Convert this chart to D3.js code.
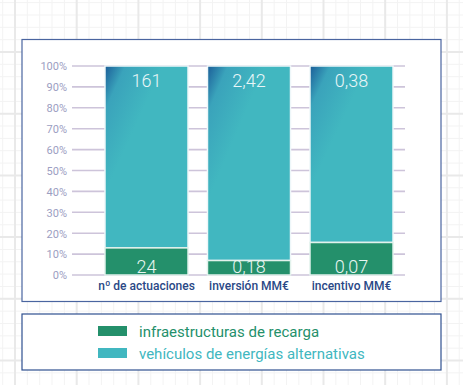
<!DOCTYPE html>
<html>
<head>
<meta charset="utf-8">
<script src="https://cdn.jsdelivr.net/npm/d3@7"></script>
<style>
  html, body { margin: 0; padding: 0; background: #fff; }
  svg { display: block; }
</style>
</head>
<body>
<script>
// --- Daten ---
const categories = ["nº de actuaciones", "inversión MM€", "incentivo MM€"];
const infraLabels = ["24", "0,18", "0,07"];
const vehLabels = ["161", "2,42", "0,38"];
const infraValues = [24, 0.18, 0.07];
const vehValues = [161, 2.42, 0.38];
const seriesNames = ["infraestructuras de recarga", "vehículos de energías alternativas"];
const tickValues = [0, 0.1, 0.2, 0.3, 0.4, 0.5, 0.6, 0.7, 0.8, 0.9, 1];

const W = 463, H = 385;
const green = "#24906b", teal = "#41b7c0";
const font = "Roboto, 'Liberation Sans', sans-serif";

const svg = d3.select("body").append("svg").attr("width", W).attr("height", H);

// --- Hintergrund: Karopapier ---
const bg = svg.append("g");
const major = 61.7, minor = major / 5;
d3.range(15 - major * 2, W, minor).forEach((x) => {
  if (x < 0) return;
  bg.append("line").attr("x1", x).attr("x2", x).attr("y1", 0).attr("y2", H)
    .attr("stroke", "#f3f3f3").attr("stroke-width", 1);
});
d3.range(52 - major, H, minor).forEach((y) => {
  if (y < 0) return;
  bg.append("line").attr("y1", y).attr("y2", y).attr("x1", 0).attr("x2", W)
    .attr("stroke", "#f3f3f3").attr("stroke-width", 1);
});
d3.range(15, W, major).forEach((x) => {
  bg.append("line").attr("x1", x).attr("x2", x).attr("y1", 0).attr("y2", H)
    .attr("stroke", "#e9e9e9").attr("stroke-width", 2);
});
d3.range(52 - major, H, major).forEach((y) => {
  if (y < 0) return;
  bg.append("line").attr("y1", y).attr("y2", y).attr("x1", 0).attr("x2", W)
    .attr("stroke", "#e9e9e9").attr("stroke-width", 2);
});

// --- Rahmen ---
svg.append("rect").attr("x", 22).attr("y", 39.5).attr("width", 419).attr("height", 262)
  .attr("fill", "#fff").attr("stroke", "#4a65a0").attr("stroke-width", 1.2);
svg.append("rect").attr("x", 22).attr("y", 314).attr("width", 419).attr("height", 56)
  .attr("fill", "#fff").attr("stroke", "#2f5090").attr("stroke-width", 1.2);

// --- Skalen ---
const x = d3.scaleBand().domain(categories).range([95.25, 402.75])
  .paddingInner(0.19).paddingOuter(0.095);
const y = d3.scaleLinear().domain([0, 1]).range([275, 66]);

// --- Gitterlinien ---
svg.append("g").selectAll("line").data(tickValues).join("line")
  .attr("x1", 72).attr("x2", 405)
  .attr("y1", (d) => y(d)).attr("y2", (d) => y(d))
  .attr("stroke", "#cdc4da").attr("stroke-width", 1.6);

// --- Y-Achse ---
const yAxis = svg.append("g").attr("transform", "translate(67,0)")
  .call(d3.axisLeft(y).tickValues(tickValues).tickSize(0).tickPadding(0)
    .tickFormat((d) => Math.round(d * 100) + "%"));
yAxis.select(".domain").remove();
yAxis.selectAll("text").attr("fill", "#9c9ec2").attr("font-size", 11)
  .attr("font-family", font).attr("dy", "0.35em");

// --- Gradient für obere Segmente ---
const defs = svg.append("defs");
const grad = defs.append("linearGradient").attr("id", "topGrad")
  .attr("x1", "0").attr("y1", "0").attr("x2", "0.35").attr("y2", "0.35");
grad.append("stop").attr("offset", "0").attr("stop-color", "#1b5d98");
grad.append("stop").attr("offset", "0.35").attr("stop-color", "#3aa3bb");
grad.append("stop").attr("offset", "1").attr("stop-color", teal);

// --- Stapeldaten ---
const rows = categories.map((c, i) => {
  const tot = infraValues[i] + vehValues[i];
  return { cat: c, infra: infraValues[i] / tot, veh: vehValues[i] / tot, i };
});

const bars = svg.append("g");
bars.selectAll("rect.veh").data(rows).join("rect").attr("class", "veh")
  .attr("x", (d) => x(d.cat)).attr("width", x.bandwidth())
  .attr("y", y(1)).attr("height", (d) => y(d.infra) - y(1))
  .attr("fill", "url(#topGrad)").attr("stroke", "#eef7f9").attr("stroke-width", 1.5);
bars.selectAll("rect.infra").data(rows).join("rect").attr("class", "infra")
  .attr("x", (d) => x(d.cat)).attr("width", x.bandwidth())
  .attr("y", (d) => y(d.infra)).attr("height", (d) => y(0) - y(d.infra))
  .attr("fill", green).attr("stroke", "#e2f2ec").attr("stroke-width", 1.5);

// --- Wertbeschriftungen ---
bars.selectAll("text.top").data(rows).join("text").attr("class", "top")
  .attr("x", (d) => x(d.cat) + x.bandwidth() / 2).attr("y", y(1) + 21)
  .attr("text-anchor", "middle").attr("font-family", font).attr("font-weight", 300)
  .attr("font-size", 18).attr("fill", "#e9f6f8").text((d) => vehLabels[d.i]);
bars.selectAll("text.bot").data(rows).join("text").attr("class", "bot")
  .attr("x", (d) => x(d.cat) + x.bandwidth() / 2).attr("y", y(0) - 2)
  .attr("text-anchor", "middle").attr("font-family", font).attr("font-weight", 300)
  .attr("font-size", 18).attr("fill", "#e9f6f2").text((d) => infraLabels[d.i]);

// --- X-Achse ---
const xAxis = svg.append("g").attr("transform", `translate(0,${y(0)})`)
  .call(d3.axisBottom(x).tickSize(0).tickPadding(0));
xAxis.select(".domain").remove();
xAxis.selectAll("text").attr("y", 15).attr("dy", 0).attr("fill", "#2a4886")
  .attr("font-size", 12).attr("font-family", font).attr("font-weight", 500);

// --- Legende ---
const legColors = [green, teal];
const leg = svg.append("g").selectAll("g").data(seriesNames).join("g")
  .attr("transform", (d, i) => `translate(98,${326 + i * 22})`);
leg.append("rect").attr("width", 29).attr("height", 10).attr("fill", (d, i) => legColors[i]);
leg.append("text").attr("x", 41).attr("y", 10.5).attr("font-family", font)
  .attr("font-size", 15).attr("fill", (d, i) => legColors[i]).text((d) => d);
</script>
</body>
</html>
